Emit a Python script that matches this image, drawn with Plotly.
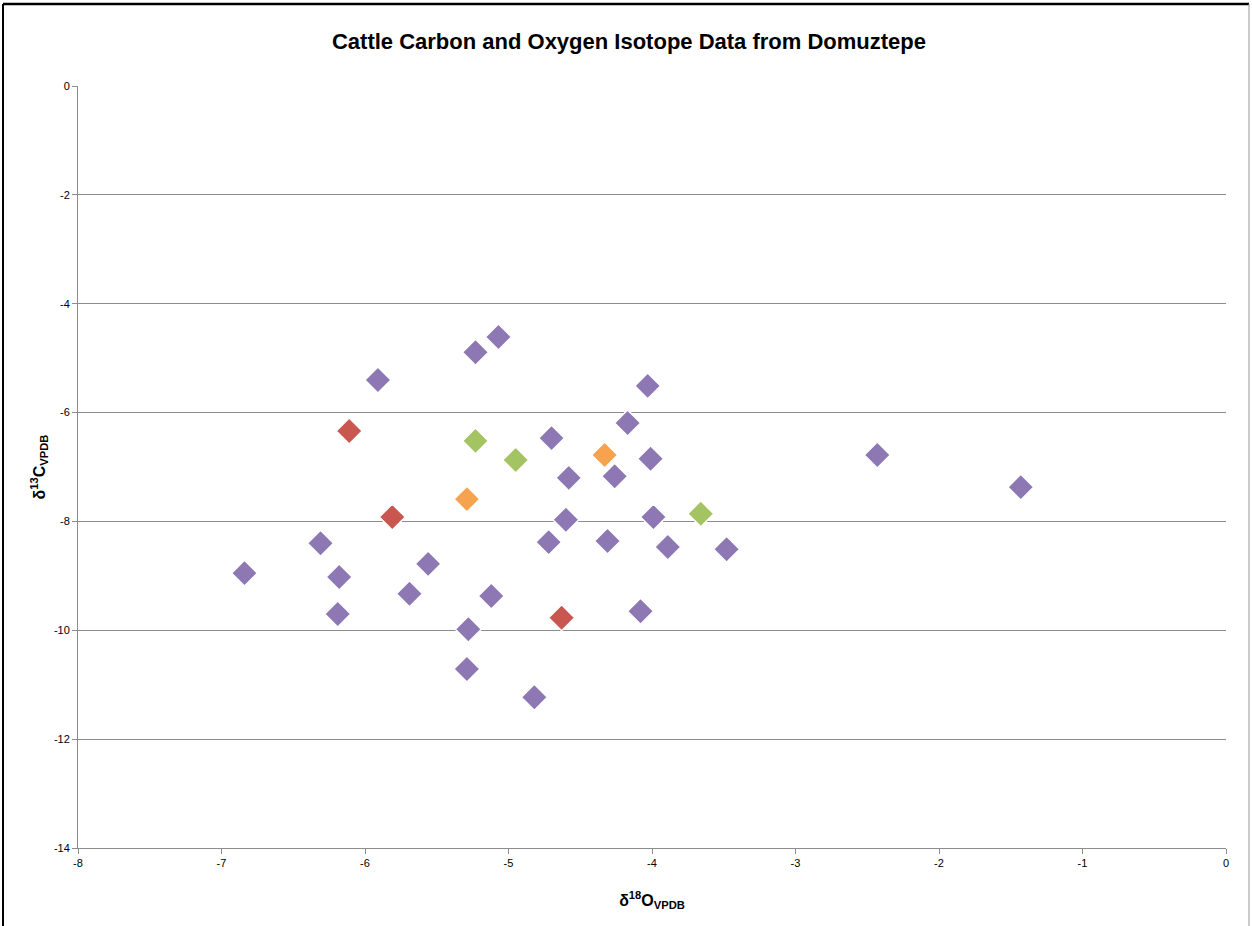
import plotly.graph_objects as go

# Purple series
purple_x = [-6.84, -6.31, -6.18, -6.19, -5.91, -5.69, -5.56, -5.28, -5.29, -5.23, -5.07, -5.12, -4.82,
            -4.72, -4.70, -4.60, -4.58, -4.31, -4.26, -4.17, -4.08, -4.03, -4.01, -3.99, -3.89, -3.48,
            -2.43, -1.43]
purple_y = [-8.95, -8.40, -9.02, -9.70, -5.40, -9.33, -8.78, -9.98, -10.71, -4.89, -4.61, -9.37, -11.23,
            -8.38, -6.47, -7.97, -7.20, -8.36, -7.17, -6.19, -9.65, -5.51, -6.85, -7.92, -8.47, -8.51,
            -6.78, -7.37]
# Red series
red_x = [-6.11, -5.81, -4.63]
red_y = [-6.34, -7.92, -9.77]
# Orange series
orange_x = [-5.29, -4.33]
orange_y = [-7.59, -6.78]
# Green series
green_x = [-5.23, -4.95, -3.66]
green_y = [-6.52, -6.87, -7.86]

x_ticks = [-8, -7, -6, -5, -4, -3, -2, -1, 0]
y_ticks = [0, -2, -4, -6, -8, -10, -12, -14]

fig = go.Figure()

def add(xs, ys, color, name):
    fig.add_trace(go.Scatter(
        x=xs, y=ys, mode="markers", name=name,
        marker=dict(symbol="diamond", size=20, color=color,
                    line=dict(color="white", width=1.5)),
        showlegend=False))

add(purple_x, purple_y, "#8d78b4", "purple")
add(red_x, red_y, "#c9574f", "red")
add(orange_x, orange_y, "#f7a24f", "orange")
add(green_x, green_y, "#a4c362", "green")

font_family = "Liberation Sans Narrow, Liberation Sans, Arial"

fig.update_layout(
    width=1252, height=926,
    margin=dict(l=78, r=26, t=86, b=78),
    paper_bgcolor="white", plot_bgcolor="white",
    title=dict(text="<b>Cattle Carbon and Oxygen Isotope Data from Domuztepe</b>",
               x=629 / 1252, xanchor="center", y=1 - 41 / 926, yanchor="middle",
               font=dict(family=font_family, size=22, color="black")),
    xaxis=dict(range=[-8, 0], tickvals=x_ticks, ticktext=[str(v) for v in x_ticks],
               showgrid=False, zeroline=False, showline=True, linecolor="#8c8c8c", linewidth=1,
               ticks="outside", ticklen=5, tickcolor="#8c8c8c",
               tickfont=dict(family=font_family, size=11, color="black"),
               title=dict(text="<b>δ<sup>18</sup>O<sub>VPDB</sub></b>", standoff=26,
                          font=dict(family=font_family, size=16, color="black"))),
    yaxis=dict(range=[-14, 0], tickvals=y_ticks, ticktext=[str(v) for v in y_ticks],
               showgrid=True, gridcolor="#8c8c8c", gridwidth=1, zeroline=False,
               showline=True, linecolor="#8c8c8c", linewidth=1,
               ticks="outside", ticklen=5, tickcolor="#8c8c8c",
               tickfont=dict(family=font_family, size=11, color="black"),
               title=dict(text="<b>δ<sup>13</sup>C<sub>VPDB</sub></b>", standoff=4,
                          font=dict(family=font_family, size=16, color="black"))),
)

# Outer chart frame (left/top black, right gray)
fx0 = (3 - 78) / 1148
fx1 = (1249 - 78) / 1148
fy1 = (848 - 4) / 762
fig.add_shape(type="line", xref="paper", yref="paper", x0=fx0, x1=fx0, y0=fy1, y1=-0.2,
              line=dict(color="black", width=2))
fig.add_shape(type="line", xref="paper", yref="paper", x0=fx0, x1=fx1, y0=fy1, y1=fy1,
              line=dict(color="black", width=2.5))
fig.add_shape(type="line", xref="paper", yref="paper", x0=fx1, x1=fx1, y0=fy1, y1=-0.2,
              line=dict(color="#999999", width=1))

fig.write_html("out.html", config={"displayModeBar": False},
               post_script="document.body.style.margin='0';")
